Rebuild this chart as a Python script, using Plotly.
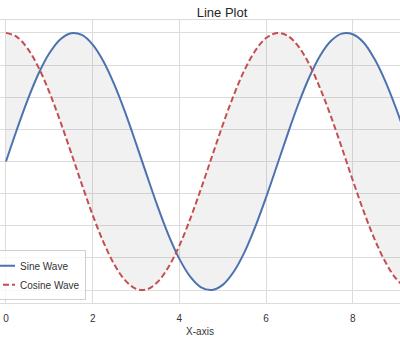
import plotly.graph_objects as go

# Sample points of the two waves
x_vals = [0, 0.25, 0.5, 0.75, 1, 1.25, 1.5, 1.75, 2, 2.25, 2.5, 2.75, 3, 3.25,
          3.5, 3.75, 4, 4.25, 4.5, 4.75, 5, 5.25, 5.5, 5.75, 6, 6.25, 6.5, 6.75,
          7, 7.25, 7.5, 7.75, 8, 8.25, 8.5, 8.75, 9, 9.25, 9.5]
sine_vals = [0, 0.247, 0.479, 0.682, 0.841, 0.949, 0.997, 0.984, 0.909, 0.778,
             0.598, 0.382, 0.141, -0.108, -0.351, -0.572, -0.757, -0.895, -0.978,
             -0.999, -0.959, -0.859, -0.706, -0.508, -0.279, -0.033, 0.215, 0.451,
             0.657, 0.824, 0.938, 0.994, 0.989, 0.925, 0.798, 0.625, 0.412, 0.173,
             -0.075]
cosine_vals = [1, 0.969, 0.878, 0.732, 0.540, 0.315, 0.071, -0.178, -0.416, -0.628,
               -0.801, -0.924, -0.990, -0.994, -0.936, -0.820, -0.654, -0.446, -0.211,
               0.037, 0.284, 0.512, 0.709, 0.861, 0.960, 0.999, 0.977, 0.893, 0.754,
               0.567, 0.347, 0.105, -0.146, -0.386, -0.602, -0.780, -0.911, -0.985,
               -0.997]
x_ticks = [0, 2, 4, 6, 8]
y_ticks = [-1, -0.75, -0.5, -0.25, 0, 0.25, 0.5, 0.75, 1]

FONT = "Liberation Sans, Arial, sans-serif"
GRID = "#dcdcdc"

fig = go.Figure()

# Shaded band between the two curves
fig.add_trace(go.Scatter(x=x_vals, y=sine_vals, mode="lines",
                         line=dict(width=0, shape="spline"),
                         showlegend=False, hoverinfo="skip"))
fig.add_trace(go.Scatter(x=x_vals, y=cosine_vals, mode="lines",
                         line=dict(width=0, shape="spline"),
                         fill="tonexty", fillcolor="rgba(128,128,128,0.11)",
                         showlegend=False, hoverinfo="skip"))

# Curves
fig.add_trace(go.Scatter(x=x_vals, y=sine_vals, mode="lines", name="Sine Wave",
                         line=dict(color="#4c72b0", width=2, shape="spline")))
fig.add_trace(go.Scatter(x=x_vals, y=cosine_vals, mode="lines", name="Cosine Wave",
                         line=dict(color="#c44e52", width=2, shape="spline",
                                   dash="6px,3px")))

fig.update_layout(
    width=400, height=340,
    margin=dict(l=0, r=0, t=20, b=37, autoexpand=False),
    paper_bgcolor="white", plot_bgcolor="white",
    font=dict(family=FONT, color="#333333", size=10),
    title=dict(text="Line Plot", x=222 / 400, xanchor="center",
               y=1 - 12 / 340, yanchor="middle",
               font=dict(size=13, color="#262626", family=FONT)),
    legend=dict(x=-0.0525, xanchor="left", y=0.01, yanchor="bottom",
                bgcolor="rgba(255,255,255,0.8)", bordercolor="#d0d0d0",
                borderwidth=1, font=dict(size=10, color="#333333"),
                traceorder="normal", tracegroupgap=0),
    showlegend=True,
)

fig.update_xaxes(range=[-0.138, 9.09], tickvals=x_ticks,
                 ticktext=[str(v) for v in x_ticks],
                 showgrid=True, gridcolor=GRID, gridwidth=1,
                 showline=True, linecolor=GRID, linewidth=1, mirror=True,
                 zeroline=False, ticks="", ticklabelstandoff=6,
                 tickfont=dict(size=10, color="#333333"),
                 title=dict(text="X-axis", standoff=4,
                            font=dict(size=10, color="#333333")))
fig.update_yaxes(range=[-1.1, 1.1], tickvals=y_ticks,
                 showgrid=True, gridcolor=GRID, gridwidth=1,
                 showticklabels=False, zeroline=False, showline=False, ticks="")

fig.write_html("out.html")
